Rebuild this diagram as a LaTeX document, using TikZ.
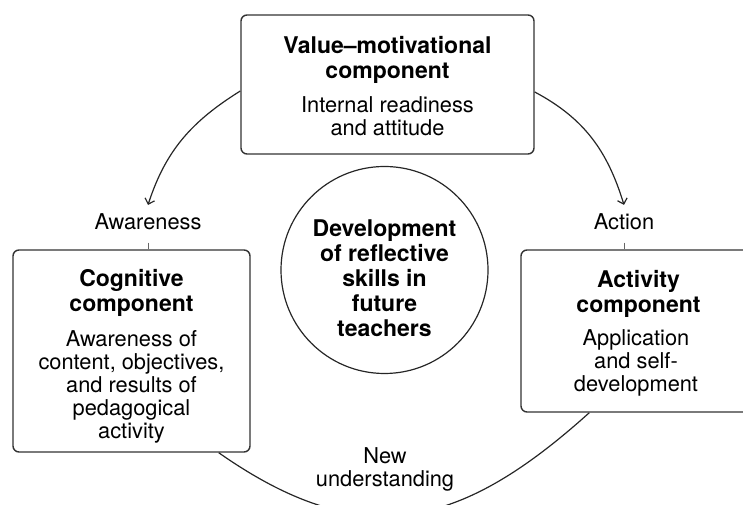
\documentclass[tikz,border=0pt]{standalone}
\usepackage{fontspec}
\setmainfont{TeX Gyre Heros}
\usetikzlibrary{arrows.meta}

\begin{document}
\begin{tikzpicture}[x=1pt,y=1pt]
	\tikzset{box/.style={draw=black!80,line width=1.4pt,rounded corners=6pt}}
	\tikzset{title/.style={font=\fontsize{23}{25}\selectfont\bfseries,align=center,inner sep=0pt}}
	\tikzset{body/.style={font=\fontsize{21.8}{23}\selectfont,align=center,inner sep=0pt}}
	\tikzset{flow/.style={draw=black!85,line width=1.2pt}}
	\tikzset{tick/.style={draw=black!60,line width=0.9pt}}
	\clip (0,0) rectangle (743,505);

	\node[box,minimum width=293pt,minimum height=139pt] (valuebox) at (387.5,420.5) {};
	\node[box,minimum width=237pt,minimum height=202pt] (cogbox) at (131.5,154) {};
	\node[box,minimum width=235pt,minimum height=162pt] (actbox) at (638.5,174) {};
	\node[draw=black!85,line width=1.2pt,circle,minimum size=207pt,inner sep=0pt] (core) at (384.5,235) {};

	\node[title] (valuetitle) at (387.5,445) {Value--motivational\\component};
	\node[body] (valuetext) at (387.5,389) {Internal readiness\\and attitude};
	\node[title] (cogtitle) at (131.5,211.6) {Cognitive\\component};
	\node[body] (cogtext) at (131.5,118.6) {Awareness of\\content, objectives,\\and results of\\pedagogical\\activity};
	\node[title] (acttitle) at (638.5,211) {Activity\\component};
	\node[body] (acttext) at (636,141.6) {Application\\and self-\\development};
	\node[title] (coretext) at (384.5,226.5) {Development\\of reflective\\skills in\\future\\teachers};

	\node[body,anchor=base] (aware) at (148,275) {Awareness};
	\node[body,anchor=base] (action) at (624,275) {Action};
	\node[body] (newund) at (385,35.2) {New\\understanding};

	% the cycle round the core
	\draw[flow,-{Straight Barb[length=5pt,width=10pt]}] ([yshift=-6.5pt]valuebox.west) to[out=212,in=72] ([yshift=9pt]aware.north);
	\draw[flow,-{Straight Barb[length=5pt,width=10pt]}] ([yshift=-7.5pt]valuebox.east) to[out=332,in=107] ([yshift=9pt]action.north);
	\draw[flow] ([xshift=-32pt]cogbox.south east) to[out=-35,in=222,looseness=1.2] ([xshift=69pt]actbox.south west);

	\draw[tick] ([yshift=-12pt]aware.south) -- (aware.south |- cogbox.north);
	\draw[tick] ([yshift=-12pt]action.south) -- (action.south |- actbox.north);

\end{tikzpicture}
\end{document}
